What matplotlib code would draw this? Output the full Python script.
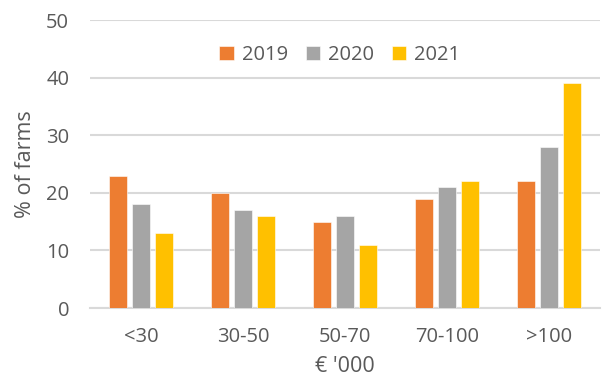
import numpy as np
import matplotlib
matplotlib.use("Agg")
import matplotlib.pyplot as plt

plt.rcParams['font.family'] = ['Open Sans', 'DejaVu Sans']

categories = ['<30', '30-50', '50-70', '70-100', '>100']
years = ['2019', '2020', '2021']
v2019 = [23, 20, 15, 19, 22]
v2020 = [18, 17, 16, 21, 28]
v2021 = [13, 16, 11, 22, 39]
colors = ['#ED7D31', '#A5A5A5', '#FFC000']

txt = '#595959'
grid = '#D9D9D9'

fig = plt.figure(figsize=(6.02, 3.87), dpi=100)
ax = fig.add_axes([90/602, 1 - 308/387, 510/602, 288/387])

x = np.arange(len(categories))
w = 0.18
step = 0.225
for i, (vals, lab) in enumerate(zip([v2019, v2020, v2021], years)):
    ax.bar(x + (i - 1) * step, vals, width=w, color=colors[i],
           edgecolor='white', linewidth=0.4, label=lab, zorder=3)

ax.set_ylim(0, 50)
ax.set_xlim(-0.5, len(categories) - 0.5)
ax.set_yticks(range(0, 51, 10))
ax.set_xticks(x)
ax.set_xticklabels(categories)
ax.yaxis.grid(True, color=grid, linewidth=1.5, zorder=0)
ax.set_axisbelow(True)
for s in ['top', 'right', 'left']:
    ax.spines[s].set_visible(False)
ax.spines['bottom'].set_color(grid)
ax.spines['bottom'].set_linewidth(1.5)
ax.tick_params(axis='both', length=0, labelsize=14.5, colors=txt)
ax.tick_params(axis='x', pad=14)
ax.tick_params(axis='y', pad=15)

ax.set_ylabel('% of farms', fontsize=15.5, color=txt, labelpad=7)
ax.set_xlabel("€ '000", fontsize=15.5, color=txt, labelpad=6)

leg = ax.legend(loc='upper center', bbox_to_anchor=(0.49, 0.975), ncol=3,
                frameon=False, fontsize=14.5, handlelength=0.7, handleheight=0.7,
                handletextpad=0.4, columnspacing=0.9)
for t in leg.get_texts():
    t.set_color(txt)

fig.savefig('out.png', dpi=100)
